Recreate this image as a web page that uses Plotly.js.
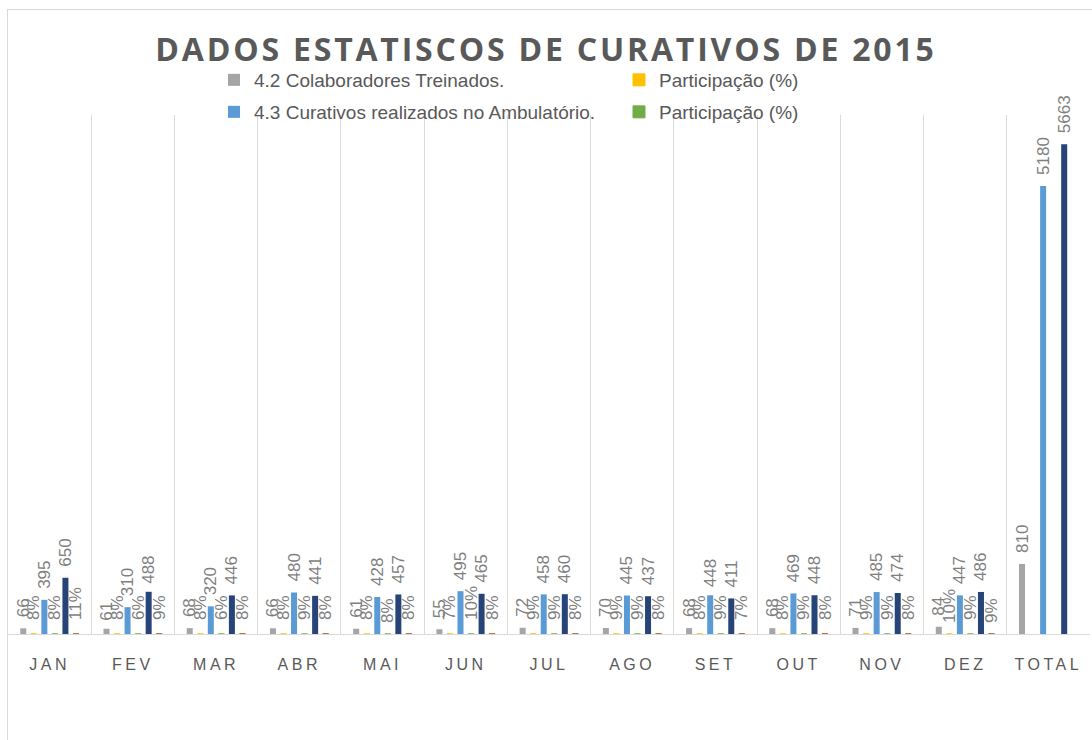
<!DOCTYPE html>
<html><head><meta charset="utf-8">
<script src="https://cdn.plot.ly/plotly-3.0.1.min.js"></script>
<style>
html,body{margin:0;padding:0;background:#fff;}
#wrap{position:relative;width:1092px;height:740px;overflow:hidden;}
#chart{width:1092px;height:740px;}
#frame{position:absolute;left:7px;top:9px;width:2000px;height:2000px;border:1px solid #d9d9d9;pointer-events:none;}
.xtick text{letter-spacing:3.5px;}
.gtitle{letter-spacing:2.8px;}
</style></head>
<body><div id="wrap"><div id="chart"></div><div id="frame"></div></div>
<script>
const categorias = ['JAN','FEV','MAR','ABR','MAI','JUN','JUL','AGO','SET','OUT','NOV','DEZ','TOTAL'];
const colaboradores = [66,61,68,66,61,55,72,70,68,68,71,84,810];
const partColab = [0.08,0.08,0.08,0.08,0.08,0.07,0.09,0.09,0.08,0.08,0.09,0.10,null];
const curativosAmb = [395,310,320,480,428,495,458,445,448,469,485,447,5180];
const partAmb = [0.08,0.06,0.06,0.09,0.08,0.10,0.09,0.09,0.09,0.09,0.09,0.09,null];
const serie5 = [650,488,446,441,457,465,460,437,411,448,474,486,5663];
const partSerie5 = [0.11,0.09,0.08,0.08,0.08,0.08,0.08,0.08,0.07,0.08,0.08,0.09,null];

const nomes = ['4.2 Colaboradores Treinados.','Participação (%)','4.3 Curativos realizados no Ambulatório.','Participação (%)','Série 5','Participação (%)'];
const cores = ['#a5a5a5','#ffc000','#5b9bd5','#70ad47','#264478','#9e480e'];
const valores = [colaboradores, partColab, curativosAmb, partAmb, serie5, partSerie5];
const ehPct = [false,true,false,true,false,true];
const naLegenda = [true,true,true,true,false,false];
const legendaDe = ['legend','legend','legend2','legend2','legend','legend'];

const labelFont = {family:'Liberation Sans, Arial, sans-serif', size:17, color:'#7f7f7f'};
const traces = valores.map((v,i)=>({
  type:'bar', x:categorias, y:v, name:nomes[i], showlegend:naLegenda[i], legend:legendaDe[i],
  marker:{color:cores[i], line:{color:cores[i], width:ehPct[i]?1:0}},
  texttemplate: ehPct[i] ? '%{y:.0%}' : '%{y}',
  textposition:'outside', textangle:-90, constraintext:'none',
  textfont:labelFont, cliponaxis:false, hoverinfo:'x+y'
}));

const legFont = {family:'Liberation Sans, Arial, sans-serif', size:19, color:'#595959'};
const legBase = {orientation:'h', x:(214-8)/1082, xanchor:'left', yref:'container', yanchor:'middle',
    entrywidth:360, entrywidthmode:'pixels', traceorder:'normal', font:legFont, bgcolor:'rgba(0,0,0,0)'};

const layout = {
  width:1092, height:740,
  margin:{l:8, r:2, t:115, b:106, autoexpand:false},
  paper_bgcolor:'#ffffff', plot_bgcolor:'#ffffff',
  barmode:'group', bargap:0.24, bargroupgap:0.43,
  title:{text:'DADOS ESTATISCOS DE CURATIVOS DE 2015', x:0.5, xanchor:'center', y:1-50/740, yanchor:'middle', yref:'container',
    font:{family:'Open Sans, sans-serif', size:32, color:'#595959', weight:'bold'}},
  legend:Object.assign({}, legBase, {y:1-80/740}),
  legend2:Object.assign({}, legBase, {y:1-112/740}),
  xaxis:{type:'category', tickson:'boundaries', showgrid:true, gridcolor:'#d9d9d9', gridwidth:1,
    showline:true, linecolor:'#d9d9d9', linewidth:1, ticks:'', ticklabelstandoff:16,
    tickfont:{family:'Liberation Sans, Arial, sans-serif', size:16, color:'#595959'}, fixedrange:true},
  yaxis:{range:[0,6000], showgrid:false, zeroline:false, showticklabels:false, showline:false, fixedrange:true},
  showlegend:true
};
Plotly.newPlot('chart', traces, layout, {displayModeBar:false, staticPlot:true}).then(gd=>{
  // extra gap between bar end and its data label, as in the original chart
  gd.querySelectorAll('text.bartext').forEach(t=>{
    const dy = /%$/.test(t.textContent) ? -11 : -8;
    t.setAttribute('transform', 'translate(0,' + dy + ') ' + (t.getAttribute('transform')||''));
  });
});
</script></body></html>
